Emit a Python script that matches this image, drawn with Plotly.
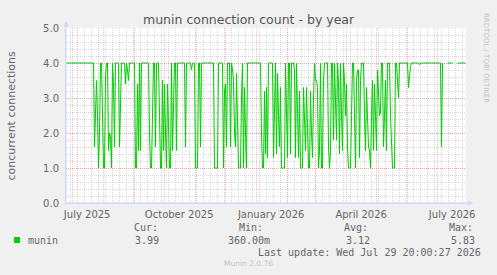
import plotly.graph_objects as go
import pandas as pd

# ---------------- data ----------------
last_update = "2026-07-29 20:00:27"
span_days = 400

# daily average of concurrent munin connections (one value per day, oldest first)
conn = [
    4, 4, 4, 4, 4, 4, 4, 4, 4, 4,
    4, 4, 4, 4, 4, 4, 4, 4, 4, 4,
    4, 4, 4, 4, 4, 4, 4, 4, 1.6, 2.8,
    3.5, 2.5, 1.0, 2.0, 4, 4, 1.6, 1.0, 1.0, 3.6,
    4, 4, 1.5, 2.0, 1.9, 1.0, 4, 3.4, 1.6, 4,
    4, 4, 4, 1.6, 3.2, 4, 4, 4, 4, 3.4,
    4, 3.8, 3.5, 4, 4, 4, 4, 4, 4, 1.0,
    1.0, 3.4, 1.5, 4, 1.5, 4, 4, 4, 4, 4,
    4, 4, 4, 2.0, 1.0, 1.0, 2.5, 4, 4, 1.6,
    4, 4, 4, 2.5, 1.0, 1.0, 3.5, 1.5, 3.4, 2.0,
    1.0, 3.4, 1.5, 1.0, 1.0, 4, 1.5, 3.5, 4, 4,
    1.5, 4, 4, 4, 4, 4, 4, 4, 4, 1.6,
    4, 4, 4, 4, 4, 3.8, 4, 4, 4, 1.0,
    1.0, 1.0, 4, 4, 1.6, 4, 4, 4, 4, 4,
    4, 4, 4, 4, 4, 4, 4, 4, 1.0, 1.0,
    1.0, 1.0, 4, 4, 4, 4, 4, 1.0, 3.2, 3.4,
    1.6, 4, 4, 4, 1.6, 4, 3.8, 3.5, 2.0, 1.6,
    3.7, 2.0, 1.0, 1.0, 1.0, 3.0, 4, 1.0, 3.3, 2.0,
    1.0, 4, 4, 4, 4, 4, 4, 4, 4, 4,
    4, 4, 4, 4, 4, 2.0, 1.0, 1.0, 3.2, 1.4,
    3.3, 1.3, 4, 4, 4, 4, 4, 1.3, 3.4, 4,
    1.4, 3.7, 2.5, 1.6, 3.3, 1.0, 1.0, 1.0, 1.0, 4,
    2.5, 1.3, 4, 4, 1.4, 4, 4, 4, 3.8, 1.3,
    4, 3.0, 1.3, 3.2, 1.0, 1.0, 1.0, 3.3, 2.0, 1.5,
    3.3, 2.0, 1.0, 1.0, 3.2, 2.0, 1.3, 3.0, 4, 3.5,
    3.5, 3.3, 1.0, 1.5, 4, 1.0, 1.0, 3.5, 4, 4,
    4, 4, 1.6, 1.0, 1.5, 4, 4, 1.8, 4, 3.0,
    1.8, 4, 3.4, 1.4, 4, 2.5, 1.5, 4, 3.5, 2.5,
    3.4, 1.6, 1.0, 1.0, 1.0, 2.5, 4, 4, 2.5, 1.0,
    3.5, 3.8, 3.8, 1.3, 3.5, 4, 4, 4, 2.5, 1.5,
    3.3, 2.5, 1.6, 1.5, 1.0, 2.5, 3.5, 1.5, 3.4, 2.5,
    1.5, 3.8, 3.1, 2.5, 2.6, 4, 4, 1.6, 2.5, 3.5,
    1.5, 4, 4, 4, 2.5, 1.5, 1.0, 1.0, 1.0, 4,
    4, 3.5, 3.0, 4, 4, 4, 4, 4, 4, 4,
    4, 4, 3.3, 3.7, 3.9, 4, 4, 4, 4, 4,
    4, 4, 4, 3.95, 4, 4, 4, 4, 4, 4,
    4, 4, 4, 4, 4, 4, 4, 4, 4, 4,
    4, 4, 4, 4, 4, 1.6, 4, None, None, None,
    None, 4, 4, 4, 4, 4, 4, None, None, None,
    None, 4, 4, 4, 4, 4, 4, 4, 4, 4,
]

month_ticks = pd.date_range("2025-07-01", "2026-07-01", freq="MS")
month_labels = ["July 2025", "", "", "October 2025", "", "", "January 2026",
                "", "", "April 2026", "", "", "July 2026"]
y_ticks = [0, 1, 2, 3, 4, 5]

series_name = "munin"
stat_headers = ["Cur:", "Min:", "Avg:", "Max:"]
stat_values = ["3.99", "360.00m", "3.12", "5.83"]
update_text = "Last update: Wed Jul 29 20:00:27 2026"

# ---------------- layout geometry ----------------
W, H = 497, 275
L, R, T, B = 66, 31, 28, 72
PW, PH = W - L - R, H - T - B


def fx(x):
    return (x - L) / PW


def fy(y):
    return (H - B - y) / PH


end = pd.Timestamp(last_update)
start = end - pd.Timedelta(days=span_days)
dates = pd.date_range(start + pd.Timedelta(hours=12), periods=len(conn), freq="D")

FONT = "DejaVu Sans"
MONO = "DejaVu Sans Mono"
TXT = "#666666"
AXIS = "#CFD6F8"
GREEN = "#00CC00"
MGRID = "rgba(235,110,110,0.45)"
GRID = "rgba(150,150,150,0.38)"

fig = go.Figure()
fig.add_trace(go.Scatter(
    x=dates, y=conn, mode="lines", connectgaps=False,
    line=dict(color=GREEN, width=1), showlegend=False, hoverinfo="skip",
))

fig.update_layout(
    width=W, height=H,
    margin=dict(l=L, r=R, t=T, b=B, pad=0),
    paper_bgcolor="#F0F0F0", plot_bgcolor="#FFFFFF",
    font=dict(family=FONT, size=10, color=TXT),
    showlegend=False,
)

fig.update_xaxes(
    type="date", range=[start, end],
    tickmode="array", tickvals=month_ticks, ticktext=month_labels,
    ticklabelshift=15, ticks="", ticklabelstandoff=2,
    tickfont=dict(family=FONT, size=10, color=TXT),
    showgrid=True, gridcolor=MGRID, griddash="1px,1px", gridwidth=1,
    minor=dict(tick0="2025-06-29", dtick=7 * 86400000, showgrid=True,
               gridcolor=GRID, griddash="1px,1px", gridwidth=1),
    showline=True, linecolor=AXIS, linewidth=1, zeroline=False,
)
fig.update_yaxes(
    range=[0, 5], tickmode="array", tickvals=y_ticks,
    ticktext=[f"{v:.1f}" for v in y_ticks],
    ticks="", ticklabelstandoff=4,
    tickfont=dict(family=FONT, size=10, color=TXT),
    showgrid=True, gridcolor=MGRID, griddash="1px,1px", gridwidth=1,
    minor=dict(dtick=0.2, showgrid=True, gridcolor=GRID,
               griddash="1px,1px", gridwidth=1),
    showline=True, linecolor=AXIS, linewidth=1, zeroline=False,
)

shapes = []
# axis extensions and arrows
shapes.append(dict(type="line", xref="paper", yref="paper",
                   x0=fx(66), x1=fx(66), y0=fy(203), y1=fy(22),
                   line=dict(color=AXIS, width=1)))
shapes.append(dict(type="line", xref="paper", yref="paper",
                   x0=fx(66), x1=fx(470), y0=fy(203), y1=fy(203),
                   line=dict(color=AXIS, width=1)))
shapes.append(dict(type="path", xref="paper", yref="paper",
                   path=f"M {fx(63.5)} {fy(26.5)} L {fx(68.5)} {fy(26.5)} L {fx(66)} {fy(21)} Z",
                   fillcolor=AXIS, line=dict(width=0)))
shapes.append(dict(type="path", xref="paper", yref="paper",
                   path=f"M {fx(468)} {fy(200.5)} L {fx(468)} {fy(205.5)} L {fx(473.5)} {fy(203)} Z",
                   fillcolor=AXIS, line=dict(width=0)))
# legend swatch
shapes.append(dict(type="rect", xref="paper", yref="paper",
                   x0=fx(14), x1=fx(20), y0=fy(243), y1=fy(237),
                   fillcolor=GREEN, line=dict(width=0)))
fig.update_layout(shapes=shapes)


def ann(x, y, text, xanchor="left", size=10, family=MONO, color=TXT, angle=0):
    fig.add_annotation(x=fx(x), y=fy(y), xref="paper", yref="paper", text=text,
                       showarrow=False, xanchor=xanchor, yanchor="middle",
                       textangle=angle, font=dict(family=family, size=size, color=color))


ann(249, 19, "munin connection count - by year", "center", 12.5, FONT, "#555555")
ann(11, 115.5, "concurrent connections", "center", 11, FONT, TXT, -90)
ann(486, 58, "RRDTOOL / TOBI OETIKER", "center", 7, FONT, "#c4c4c4", 90)

ann(26, 240, series_name)
stat_x = [131.7, 236.7, 341.7, 447]
val_x = [161, 272.3, 371.7, 476.7]
for hx, vx, h, v in zip(stat_x, val_x, stat_headers, stat_values):
    ann(hx, 227.5, h)
    ann(vx, 240, v, "right")
ann(482.5, 252, update_text, "right")
ann(248, 263.5, "Munin 2.0.76", "center", 7.5, FONT, "#c4c4c4")

fig.write_html("out.html")
